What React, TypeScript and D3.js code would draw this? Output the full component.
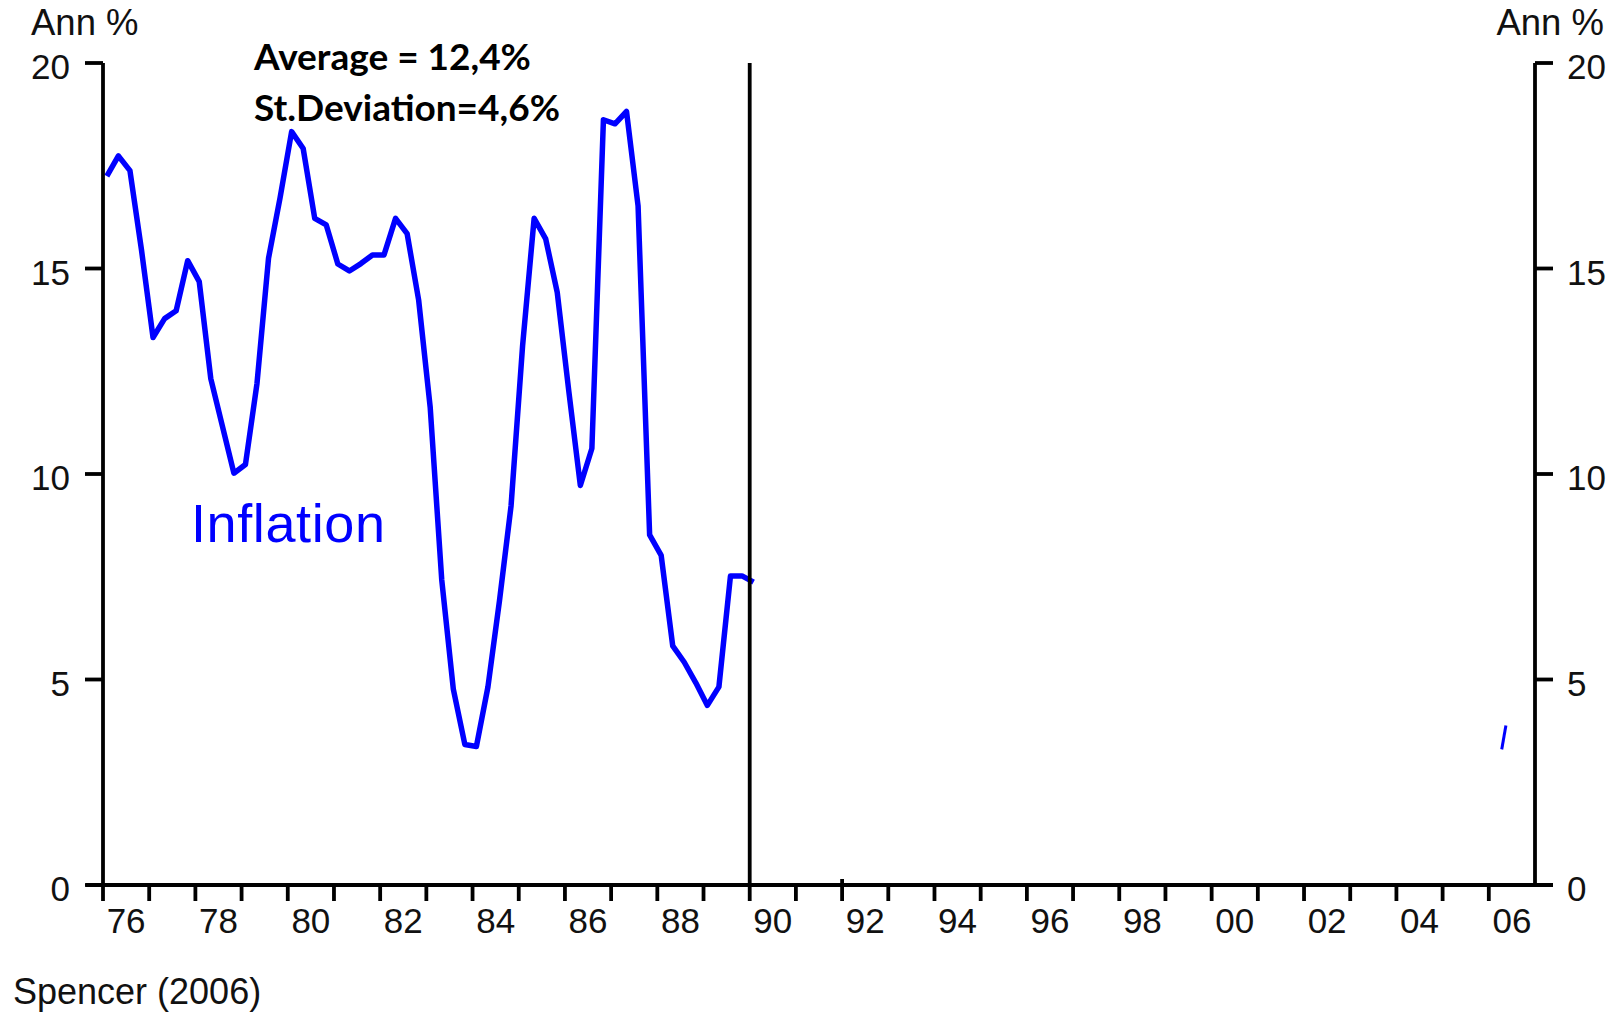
import * as d3 from "d3";

// quarterly annual inflation, 1976 Q1 .. 1990 Q1 (Ann %)
const inflation = [
  17.25, 17.74, 17.38, 15.45, 13.32, 13.78, 13.97, 15.19, 14.68, 12.32, 11.17, 10.02,
  10.23, 12.2, 15.25, 16.72, 18.33, 17.92, 16.22, 16.06, 15.11, 14.94, 15.12, 15.33,
  15.33, 16.22, 15.85, 14.23, 11.62, 7.42, 4.77, 3.42, 3.37, 4.82, 6.92, 9.22,
  13.12, 16.22, 15.72, 14.42, 12.02, 9.72, 10.62, 18.62, 18.52, 18.82, 16.52, 8.52,
  8.02, 5.82, 5.42, 4.92, 4.37, 4.82, 7.52, 7.52, 7.37,
];
const firstYear = 1976;
// stray fragment of the later series, visible near 2006
const fragmentYears = [2006.28, 2006.37];
const fragmentValues = [3.3, 3.88];

const yTicks = [0, 5, 10, 15, 20];
const tickYears = d3.range(1976, 2007);
const labelYears = d3.range(1976, 2007, 2);
const breakYear = 1990;
const statLines = ["Average = 12,4%", "St.Deviation=4,6%"];

const W = 1610;
const H = 1013;
const font = "'Liberation Sans', Arial, sans-serif";

export default function App() {
  const x = d3.scaleLinear().domain([1976, 2007]).range([103, 1535]);
  const y = d3.scaleLinear().domain([0, 20]).range([885, 63]);

  const pts: [number, number][] = inflation.map((v, i) => [firstYear + i / 4 + 1 / 12, v]);
  const line = d3
    .line<[number, number]>()
    .x((d) => x(d[0]))
    .y((d) => y(d[1]));
  const frag: [number, number][] = fragmentYears.map((t, i) => [t, fragmentValues[i]]);

  const x0 = x(1976);
  const x1 = x(2007);
  const yBase = y(0);

  return (
    <svg
      width={W}
      height={H}
      viewBox={`0 0 ${W} ${H}`}
      style={{ position: "fixed", left: 0, top: 0, background: "#fff" }}
    >
      <rect width={W} height={H} fill="#fff" />

      {/* data */}
      <path d={line(pts) ?? ""} fill="none" stroke="#0000ff" strokeWidth={5.5} strokeLinejoin="round" />
      <path d={line(frag) ?? ""} fill="none" stroke="#0000ff" strokeWidth={3} />

      {/* axes */}
      <g stroke="#000" strokeWidth={3.8} fill="none">
        <line x1={x0} x2={x0} y1={y(20)} y2={yBase} />
        <line x1={x1} x2={x1} y1={y(20)} y2={yBase} />
        <line x1={x(breakYear)} x2={x(breakYear)} y1={y(20)} y2={yBase} />
        <line x1={x0 - 17} x2={x1 + 18} y1={yBase} y2={yBase} />
        {yTicks.map((t) => (
          <g key={t}>
            <line x1={x0 - 18} x2={x0} y1={y(t)} y2={y(t)} />
            <line x1={x1} x2={x1 + 18} y1={y(t)} y2={y(t)} />
          </g>
        ))}
        {tickYears.map((t) => (
          <line key={t} x1={x(t)} x2={x(t)} y1={t === 1992 ? yBase - 6 : yBase} y2={yBase + 16} />
        ))}
      </g>

      {/* tick labels */}
      <g fontFamily={font} fontSize={35} fill="#111">
        {yTicks.map((t) => (
          <g key={t}>
            <text x={x0 - 33} y={y(t) + 16} textAnchor="end">
              {t}
            </text>
            <text x={x1 + 32} y={y(t) + 16}>
              {t}
            </text>
          </g>
        ))}
        {labelYears.map((t) => (
          <text key={t} x={x(t + 0.5)} y={933} textAnchor="middle">
            {String(t % 100).padStart(2, "0")}
          </text>
        ))}
        <text x={31} y={35} fontSize={36.5}>
          Ann %
        </text>
        <text x={1604} y={35} fontSize={36.5} textAnchor="end">
          Ann %
        </text>
        <text x={13} y={1004} fontSize={36}>
          Spencer (2006)
        </text>
      </g>

      {/* annotations */}
      <g fontFamily="Lato, 'Open Sans', sans-serif" fontWeight={700} fontSize={37} fill="#000">
        {statLines.map((s, i) => (
          <text key={s} x={254} y={70 + i * 51}>
            {s}
          </text>
        ))}
      </g>
      <text x={191} y={542} fontFamily={font} fontSize={54} letterSpacing={0.6} fill="#0000ff">
        Inflation
      </text>
    </svg>
  );
}
